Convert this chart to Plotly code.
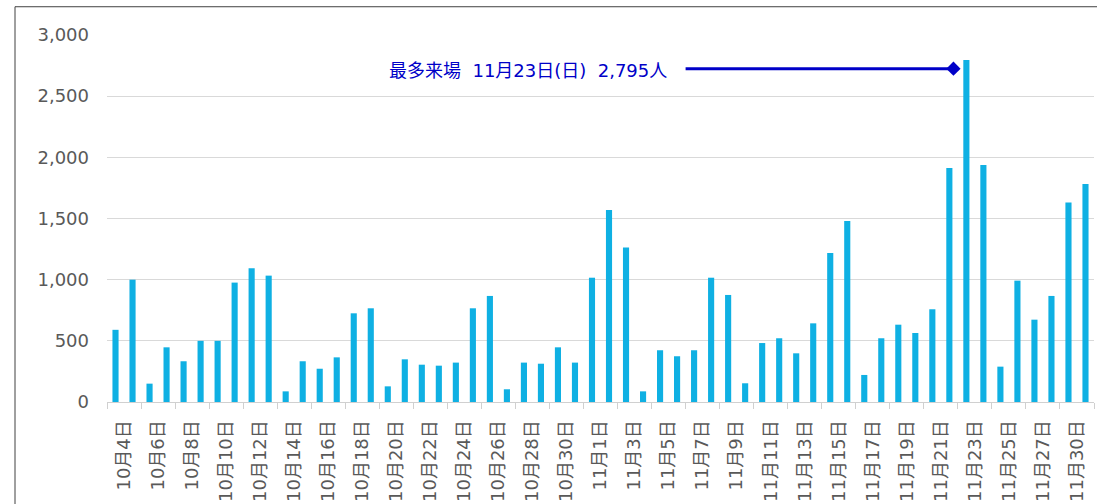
import plotly.graph_objects as go

# ---- data ----
dates = (
    [f"10月{d}日" for d in range(4, 32)]
    + [f"11月{d}日" for d in range(1, 28)]
    + ["11月29日", "11月30日", "12月1日"]
)
visitors = [
    590, 1000, 150, 447, 333, 500, 500, 976, 1093, 1033,
    87, 333, 272, 365, 725, 766, 128, 349, 305, 297,
    322, 766, 867, 104, 322, 313, 447, 322, 1016, 1570,
    1262, 87, 423, 374, 423, 1016, 875, 153, 482, 521,
    398, 643, 1218, 1480, 221, 521, 632, 564, 758, 1913,
    2795, 1938, 289, 992, 673, 867, 1630, 1783,
]
y_ticks = [0, 500, 1000, 1500, 2000, 2500, 3000]
y_ticktext = ["0", "500", "1,000", "1,500", "2,000", "2,500", "3,000"]
callout_text = "最多来場\u00a0\u00a011月23日(日)\u00a0\u00a02,795人"

FONT = "DejaVu Sans, Noto Sans CJK JP, sans-serif"
BLUE = "#0000C8"

n = len(visitors)
xs = list(range(n))
peak_i = max(range(n), key=lambda i: visitors[i])
peak_v = visitors[peak_i]

label_idx = list(range(0, n, 2))
tickvals = [i + 0.5 for i in label_idx]
ticktext = [dates[i] for i in label_idx]
boundaries = [i - 0.5 for i in range(0, n + 1, 2)]

fig = go.Figure()
fig.add_trace(go.Bar(
    x=xs, y=visitors, marker=dict(color="#0FB0E3", line=dict(width=0)),
    width=0.36, hoverinfo="y",
))

# callout line with diamond end
line_y = peak_v * 0.975
x_start = peak_i - 16.5
x_end = peak_i - 0.76
fig.add_trace(go.Scatter(
    x=[x_start, x_end], y=[line_y, line_y], mode="lines+markers",
    line=dict(color=BLUE, width=3),
    marker=dict(symbol=["circle", "diamond"], size=[0, 11], color=BLUE,
                opacity=1, line=dict(width=0, color=BLUE)),
    hoverinfo="skip",
))
fig.add_annotation(
    x=x_start, y=line_y, xref="x", yref="y", text=callout_text,
    showarrow=False, xanchor="right", yanchor="middle", xshift=-17, yshift=-2,
    font=dict(family=FONT, size=18, color=BLUE),
)

# outer frame (top and left edges visible)
fx0, fy1 = -0.0932, 1.077
fig.add_shape(type="line", xref="paper", yref="paper",
              x0=fx0, x1=1.05, y0=fy1, y1=fy1,
              line=dict(color="#404040", width=1), layer="above")
fig.add_shape(type="line", xref="paper", yref="paper",
              x0=fx0, x1=fx0, y0=-0.5, y1=fy1,
              line=dict(color="#404040", width=1), layer="above")

fig.update_layout(
    width=1097, height=504,
    margin=dict(l=107, r=3, t=35, b=102, pad=0, autoexpand=False),
    paper_bgcolor="white", plot_bgcolor="white",
    showlegend=False,
    font=dict(family=FONT, color="#595959"),
    xaxis=dict(
        range=[-0.5, n - 0.5], automargin=False,
        tickvals=tickvals, ticktext=ticktext, tickangle=-90,
        ticks="", ticklen=0,
        tickfont=dict(family=FONT, size=18, color="#595959"),
        showgrid=False, zeroline=False,
        showline=True, linecolor="#D0D0D0", linewidth=1,
        minor=dict(tickvals=boundaries, ticks="outside", ticklen=6,
                   tickcolor="#D0D0D0", tickwidth=1, showgrid=False),
        ticklabelstandoff=10,
    ),
    yaxis=dict(
        range=[0, 3000], automargin=False,
        tickvals=y_ticks, ticktext=y_ticktext,
        ticks="", showgrid=True, gridcolor="#D9D9D9", gridwidth=1,
        zeroline=False, showline=False,
        tickfont=dict(family=FONT, size=18, color="#595959"),
        ticklabelstandoff=17,
    ),
)

fig.write_html(
    "out.html",
    config={"displayModeBar": False},
    post_script="document.body.style.margin='0';document.body.style.overflow='hidden';",
)
